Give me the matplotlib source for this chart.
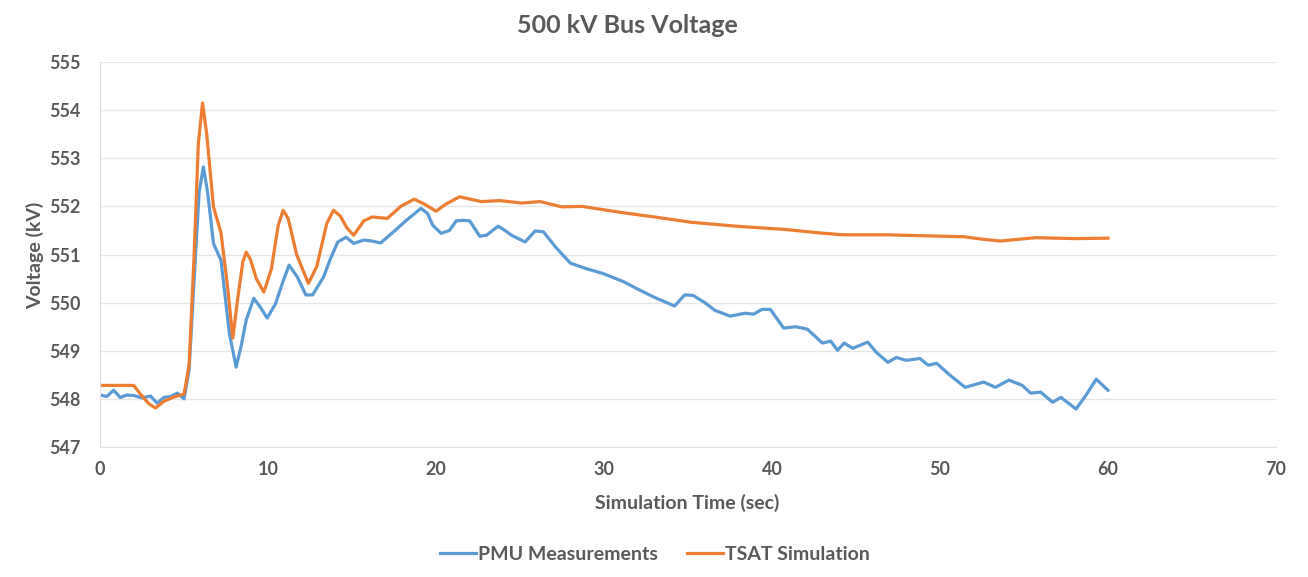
import matplotlib
matplotlib.use('Agg')
import matplotlib.pyplot as plt

pmu_t = [0, 0.4, 0.8, 1.2, 1.6, 2.0, 2.5, 3.0, 3.4, 3.8, 4.2, 4.6, 5.0, 5.3, 5.6, 5.9,
         6.15, 6.4, 6.6, 6.75, 7.2, 7.7, 8.1, 8.4, 8.7, 9.15, 9.55, 9.95, 10.45, 10.85,
         11.25, 11.75, 12.25, 12.65, 13.3, 13.7, 14.15, 14.65, 15.1, 15.7, 16.2, 16.7,
         17.4, 18.2, 19.1, 19.5, 19.8, 20.3, 20.8, 21.2, 21.6, 22.0, 22.6, 23.0, 23.7,
         24.1, 24.5, 25.3, 25.9, 26.4, 27.1, 28.0, 29.0, 29.9, 31.2, 31.9, 33.0, 34.2,
         34.8, 35.3, 36.0, 36.6, 37.5, 38.4, 38.9, 39.4, 39.9, 40.7, 41.4, 42.1, 43.0,
         43.5, 43.9, 44.3, 44.8, 45.7, 46.2, 46.9, 47.4, 48.0, 48.8, 49.3, 49.8, 50.6,
         51.5, 52.1, 52.6, 53.3, 54.1, 54.9, 55.4, 56.0, 56.7, 57.2, 58.1, 58.7, 59.3, 60.0]
pmu_v = [548.08, 548.05, 548.18, 548.03, 548.08, 548.07, 548.02, 548.06, 547.91, 548.03,
         548.05, 548.12, 548.0, 548.6, 550.5, 552.3, 552.82, 552.3, 551.7, 551.23, 550.88,
         549.36, 548.66, 549.1, 549.64, 550.09, 549.9, 549.68, 549.98, 550.4, 550.78,
         550.53, 550.16, 550.16, 550.53, 550.9, 551.26, 551.36, 551.23, 551.3, 551.28,
         551.24, 551.45, 551.7, 551.96, 551.85, 551.61, 551.44, 551.5, 551.7, 551.71,
         551.7, 551.38, 551.4, 551.59, 551.5, 551.4, 551.26, 551.49, 551.47, 551.16,
         550.82, 550.7, 550.61, 550.43, 550.3, 550.11, 549.93, 550.16, 550.15, 550.0,
         549.84, 549.72, 549.78, 549.76, 549.86, 549.86, 549.47, 549.5, 549.45, 549.16,
         549.2, 549.01, 549.16, 549.05, 549.18, 548.97, 548.76, 548.86, 548.8, 548.84,
         548.7, 548.74, 548.49, 548.24, 548.3, 548.35, 548.24, 548.39, 548.28, 548.12,
         548.14, 547.93, 548.03, 547.79, 548.08, 548.41, 548.18]

# TSAT simulation trace
tsat_t = [0, 2.0, 2.4, 2.9, 3.3, 3.8, 4.4, 5.0, 5.3, 5.6, 5.85, 6.1, 6.35, 6.75, 7.2,
          7.6, 7.9, 8.2, 8.5, 8.7, 8.95, 9.3, 9.75, 10.2, 10.6, 10.9, 11.2, 11.7, 12.4,
          12.9, 13.5, 13.9, 14.3, 14.7, 15.1, 15.7, 16.2, 17.1, 17.9, 18.7, 19.3, 20.0,
          20.6, 21.4, 22.7, 23.8, 25.1, 26.2, 27.5, 28.7, 30.9, 33.0, 35.2, 37.8, 40.8,
          42.8, 44.2, 46.8, 49.0, 51.4, 52.5, 53.6, 55.7, 58.1, 60.0]
tsat_v = [548.28, 548.28, 548.1, 547.9, 547.81, 547.95, 548.04, 548.1, 548.7, 551.0,
          553.3, 554.15, 553.5, 551.99, 551.45, 550.3, 549.26, 550.1, 550.85, 551.05,
          550.9, 550.5, 550.22, 550.7, 551.6, 551.92, 551.75, 551.0, 550.4, 550.75,
          551.65, 551.92, 551.8, 551.55, 551.4, 551.7, 551.78, 551.75, 552.0, 552.15,
          552.05, 551.9, 552.05, 552.2, 552.1, 552.12, 552.07, 552.1, 551.99, 552.0,
          551.88, 551.78, 551.67, 551.59, 551.52, 551.45, 551.41, 551.41, 551.39, 551.37,
          551.32, 551.28, 551.35, 551.33, 551.34]

x_ticks = [0, 10, 20, 30, 40, 50, 60, 70]
y_ticks = [547, 548, 549, 550, 551, 552, 553, 554, 555]

txt = '#595959'
plt.rcParams['font.family'] = ['Lato', 'DejaVu Sans']

fig = plt.figure(figsize=(13.08, 5.77), dpi=100)
ax = fig.add_axes([0.0765, 0.2253, 0.899, 0.6672])

ax.plot(pmu_t, pmu_v, color='#5B9BD5', lw=2.3, label='PMU Measurements', solid_joinstyle='round')
ax.plot(tsat_t, tsat_v, color='#ED7D31', lw=2.3, label='TSAT Simulation', solid_joinstyle='round')

ax.set_xlim(0, 70)
ax.set_ylim(547, 555)
ax.set_xticks(x_ticks)
ax.set_yticks(y_ticks)
ax.grid(axis='y', color='#E6E6E6', lw=1)
ax.set_axisbelow(True)
for s in ['top', 'right']:
    ax.spines[s].set_visible(False)
ax.spines['left'].set_color('#E0E0E0')
ax.spines['bottom'].set_color('#E0E0E0')
ax.tick_params(length=0, labelsize=13, labelcolor=txt)
ax.tick_params(axis='x', pad=10)
ax.tick_params(axis='y', pad=14)
for lab in ax.get_xticklabels() + ax.get_yticklabels():
    lab.set_fontweight('bold')

fig.text(0.5256, 1 - 503 / 577, 'Simulation Time (sec)', fontsize=14, color=txt,
         fontweight='bold', ha='center', va='center')
fig.text(0.0268, 1 - 255 / 577, 'Voltage (kV)', fontsize=14, color=txt,
         fontweight='bold', ha='center', va='center', rotation=90)
fig.text(0.480, 0.955, '500 kV Bus Voltage', fontsize=18, color=txt, fontweight='bold',
         ha='center', va='center')

leg = fig.legend(loc='center', bbox_to_anchor=(0.5008, 1 - 554 / 577), ncol=2, frameon=False,
                 handlelength=1.85, handletextpad=0.1, columnspacing=1.5,
                 prop={'weight': 'bold', 'size': 14})
for t in leg.get_texts():
    t.set_color(txt)

fig.savefig('out.png', dpi=100, facecolor='white')
